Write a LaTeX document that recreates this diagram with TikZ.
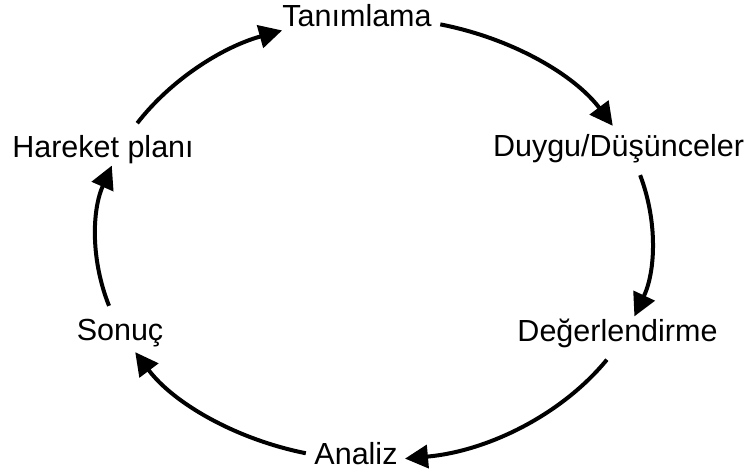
\documentclass[tikz,border=0pt]{standalone}
\usepackage{fontspec}
\setmainfont{Liberation Sans}
\usetikzlibrary{arrows.meta}
\tikzset{
  lbl/.style={inner sep=0pt, anchor=base, font=\fontsize{30.5}{36}\selectfont},
  cyc/.style={line width=4pt, -{Triangle[length=23pt,width=23pt]}},
}
\begin{document}
\begin{tikzpicture}[x=1pt,y=1pt]
\useasboundingbox (0,0) rectangle (750,474);
\node[lbl] (tan) at (357,447) {Tanımlama};
\node[lbl] (duy) at (618.5,317) {Duygu/Düşünceler};
\node[lbl] (deg) at (617.5,132) {Değerlendirme};
\node[lbl] (ana) at (356,9) {Analiz};
\node[lbl] (son) at (120,133) {Sonuç};
\node[lbl] (har) at (103,316) {Hareket planı};
\coordinate (c) at (374,235);
\path (c) ++(76.2:278pt and 221pt) coordinate (s1);
\path (c) ++(16.8:278pt and 221pt) coordinate (s2);
\path (c) ++(-33.1:278pt and 221pt) coordinate (s3);
\path (c) ++(-104.2:278pt and 221pt) coordinate (s4);
\path (c) ++(197.6:278pt and 221pt) coordinate (s5);
\path (c) ++(148.4:278pt and 221pt) coordinate (s6);
\draw[cyc] (s1) arc[start angle=76.2, end angle=30.8, x radius=278pt, y radius=221pt];
\draw[cyc] (s2) arc[start angle=16.8, end angle=-20.5, x radius=278pt, y radius=221pt];
\draw[cyc] (s3) arc[start angle=-33.1, end angle=-83.6, x radius=278pt, y radius=221pt];
\draw[cyc] (s4) arc[start angle=-104.2, end angle=-149.2, x radius=278pt, y radius=221pt];
\draw[cyc] (s5) arc[start angle=197.6, end angle=160.6, x radius=278pt, y radius=221pt];
\draw[cyc] (s6) arc[start angle=148.4, end angle=109.3, x radius=278pt, y radius=221pt];
\end{tikzpicture}
\end{document}
